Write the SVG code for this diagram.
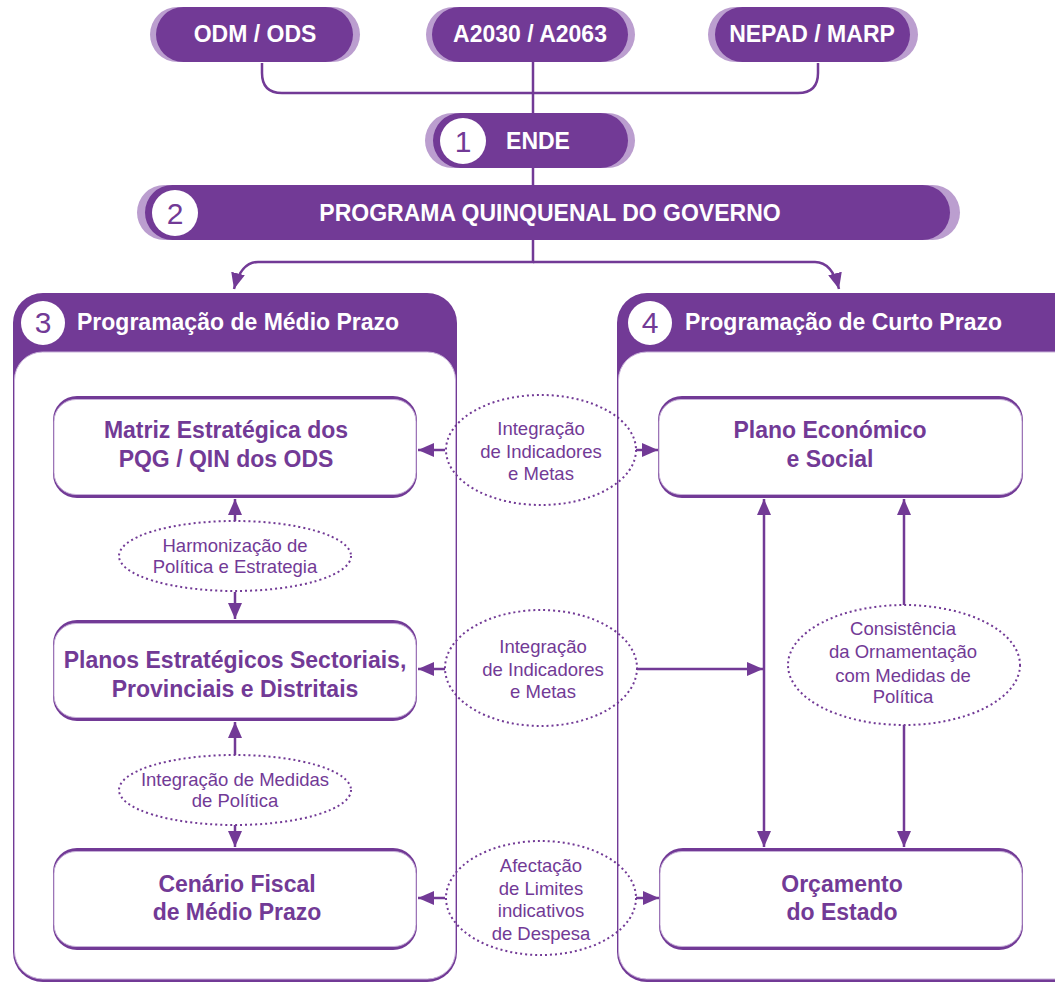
<svg xmlns="http://www.w3.org/2000/svg" width="1055" height="983" viewBox="0 0 1055 983">
<style>
.dk{fill:#723a96}
.lt{fill:#bb9ecf}
.wb{fill:#fff;stroke:#c7b0d8;stroke-width:1}
.pt{font-family:"Liberation Sans",Arial,sans-serif;font-weight:bold;font-size:23px;fill:#fff;text-anchor:middle}
.ht{font-family:"Liberation Sans",Arial,sans-serif;font-weight:bold;font-size:23px;fill:#fff}
.num{font-family:"Liberation Sans",Arial,sans-serif;font-size:30px;fill:#723a96;text-anchor:middle}
.bt{font-family:"Liberation Sans",Arial,sans-serif;font-weight:bold;font-size:23px;fill:#723a96;text-anchor:middle}
.et{font-family:"Liberation Sans",Arial,sans-serif;font-size:18.5px;fill:#723a96;text-anchor:middle}
.ell{fill:none;stroke:#723a96;stroke-width:2;stroke-dasharray:2 3}
.ln{fill:none;stroke:#723a96;stroke-width:2.5}
</style>
<defs>
<marker id="ah" viewBox="0 0 16 14" refX="16" refY="7" markerWidth="16" markerHeight="14" markerUnits="userSpaceOnUse" orient="auto-start-reverse">
<path d="M0,0 L16,7 L0,14 z" fill="#723a96"/>
</marker>
</defs>

<!-- Top pills -->
<g id="odm">
<rect class="lt" x="150" y="7" width="210" height="55" rx="27.5"/>
<rect class="dk" x="156" y="7" width="197" height="55" rx="27.5"/>
<text class="pt" x="255" y="42">ODM / ODS</text>
</g>
<g id="a2030">
<rect class="lt" x="426" y="7" width="209" height="55" rx="27.5"/>
<rect class="dk" x="432" y="7" width="196" height="55" rx="27.5"/>
<text class="pt" x="530" y="42">A2030 / A2063</text>
</g>
<g id="nepad">
<rect class="lt" x="708" y="7" width="210" height="55" rx="27.5"/>
<rect class="dk" x="715" y="7" width="195" height="55" rx="27.5"/>
<text class="pt" x="812" y="42">NEPAD / MARP</text>
</g>

<!-- Connectors -->
<g id="connectors">
<path class="ln" d="M262,63 V73 Q262,93 282,93 H798 Q818,93 818,73 V63"/>
<path class="ln" d="M533,62 V113"/>
<path class="ln" d="M533,168 V185"/>
<path class="ln" d="M533,240 V262 H258 Q241,262 234,289" marker-end="url(#ah)"/>
<path class="ln" d="M533,262 H815 Q832,262 839,289" marker-end="url(#ah)"/>
</g>

<g id="ende">
<rect class="lt" x="425" y="113" width="210" height="55" rx="27.5"/>
<rect class="dk" x="433" y="113" width="195" height="55" rx="27.5"/>
<circle cx="463" cy="141" r="23" fill="#fff"/>
<text class="num" x="463" y="152">1</text>
<text class="pt" x="538" y="149">ENDE</text>
</g>

<g id="pqg">
<rect class="lt" x="137" y="185" width="823" height="55" rx="27.5"/>
<rect class="dk" x="145" y="185" width="805" height="55" rx="27.5"/>
<circle cx="175" cy="213" r="23" fill="#fff"/>
<text class="num" x="175" y="224">2</text>
<text class="pt" x="550" y="221">PROGRAMA QUINQUENAL DO GOVERNO</text>
</g>

<!-- Panels -->
<g id="panel3">
<rect class="dk" x="13" y="293" width="444" height="689" rx="30"/>
<rect class="wb" x="14.5" y="352" width="441" height="627" rx="28"/>
<circle cx="43" cy="323" r="22" fill="#fff"/>
<text class="num" x="43" y="333">3</text>
<text class="ht" x="77" y="330">Programação de Médio Prazo</text>
</g>
<g id="panel4">
<rect class="dk" x="617" y="293" width="470" height="689" rx="30"/>
<rect class="wb" x="618.5" y="352" width="467" height="627" rx="28"/>
<circle cx="650" cy="323" r="22" fill="#fff"/>
<text class="num" x="650" y="333">4</text>
<text class="ht" x="685" y="330">Programação de Curto Prazo</text>
</g>

<!-- Boxes -->
<g id="matriz">
<rect class="dk" x="53" y="396" width="364" height="102" rx="24"/>
<rect class="wb" x="54" y="399.5" width="362" height="95" rx="22"/>
<text class="bt" x="226" y="438">Matriz Estratégica dos</text>
<text class="bt" x="226" y="467">PQG / QIN dos ODS</text>
</g>
<g id="plano">
<rect class="dk" x="658" y="396" width="365" height="102" rx="24"/>
<rect class="wb" x="659" y="399.5" width="363" height="95" rx="22"/>
<text class="bt" x="830" y="438">Plano Económico</text>
<text class="bt" x="830" y="467">e Social</text>
</g>
<g id="planos">
<rect class="dk" x="53" y="620" width="364" height="101" rx="24"/>
<rect class="wb" x="54" y="623.5" width="362" height="94" rx="22"/>
<text class="bt" x="235" y="668">Planos Estratégicos Sectoriais,</text>
<text class="bt" x="235" y="697">Provinciais e Distritais</text>
</g>
<g id="cenario">
<rect class="dk" x="53" y="848" width="364" height="102" rx="24"/>
<rect class="wb" x="54" y="851.5" width="362" height="95" rx="22"/>
<text class="bt" x="237" y="892">Cenário Fiscal</text>
<text class="bt" x="237" y="920">de Médio Prazo</text>
</g>
<g id="orcamento">
<rect class="dk" x="659" y="848" width="364" height="102" rx="24"/>
<rect class="wb" x="660" y="851.5" width="362" height="95" rx="22"/>
<text class="bt" x="842" y="892">Orçamento</text>
<text class="bt" x="842" y="920">do Estado</text>
</g>

<!-- Arrows -->
<g id="arrows">
<path class="ln" d="M445,450 H418" marker-end="url(#ah)"/>
<path class="ln" d="M636,450 H658" marker-end="url(#ah)"/>
<path class="ln" d="M445,669 H418" marker-end="url(#ah)"/>
<path class="ln" d="M637,669 H763" marker-end="url(#ah)"/>
<path class="ln" d="M445,898 H418" marker-end="url(#ah)"/>
<path class="ln" d="M636,898 H659" marker-end="url(#ah)"/>
<path class="ln" d="M764,499 V847" marker-start="url(#ah)" marker-end="url(#ah)"/>
<path class="ln" d="M904,605 V499" marker-end="url(#ah)"/>
<path class="ln" d="M904,725 V847" marker-end="url(#ah)"/>
<path class="ln" d="M235,521 V499" marker-end="url(#ah)"/>
<path class="ln" d="M235,592 V619" marker-end="url(#ah)"/>
<path class="ln" d="M235,755 V722" marker-end="url(#ah)"/>
<path class="ln" d="M235,825 V847" marker-end="url(#ah)"/>
</g>

<!-- Ellipses -->
<g id="e-integ1">
<ellipse class="ell" cx="541" cy="450" rx="95" ry="55"/>
<text class="et" x="541" y="435">Integração</text>
<text class="et" x="541" y="458">de Indicadores</text>
<text class="et" x="541" y="480">e Metas</text>
</g>
<g id="e-integ2">
<ellipse class="ell" cx="541" cy="668" rx="96" ry="58"/>
<text class="et" x="543" y="653">Integração</text>
<text class="et" x="543" y="676">de Indicadores</text>
<text class="et" x="543" y="698">e Metas</text>
</g>
<g id="e-afect">
<ellipse class="ell" cx="541" cy="898" rx="95" ry="57"/>
<text class="et" x="541" y="872">Afectação</text>
<text class="et" x="541" y="894.5">de Limites</text>
<text class="et" x="541" y="917">indicativos</text>
<text class="et" x="541" y="939.5">de Despesa</text>
</g>
<g id="e-harm">
<ellipse class="ell" cx="235" cy="556" rx="116" ry="35"/>
<text class="et" x="235" y="552">Harmonização de</text>
<text class="et" x="235" y="573">Política e Estrategia</text>
</g>
<g id="e-medidas">
<ellipse class="ell" cx="235" cy="790" rx="116" ry="35"/>
<text class="et" x="235" y="786">Integração de Medidas</text>
<text class="et" x="235" y="807">de Política</text>
</g>
<g id="e-consist">
<ellipse class="ell" cx="904" cy="665" rx="116" ry="60"/>
<text class="et" x="903" y="635">Consistência</text>
<text class="et" x="903" y="658">da Ornamentação</text>
<text class="et" x="903" y="682">com Medidas de</text>
<text class="et" x="903" y="703">Política</text>
</g>
</svg>
